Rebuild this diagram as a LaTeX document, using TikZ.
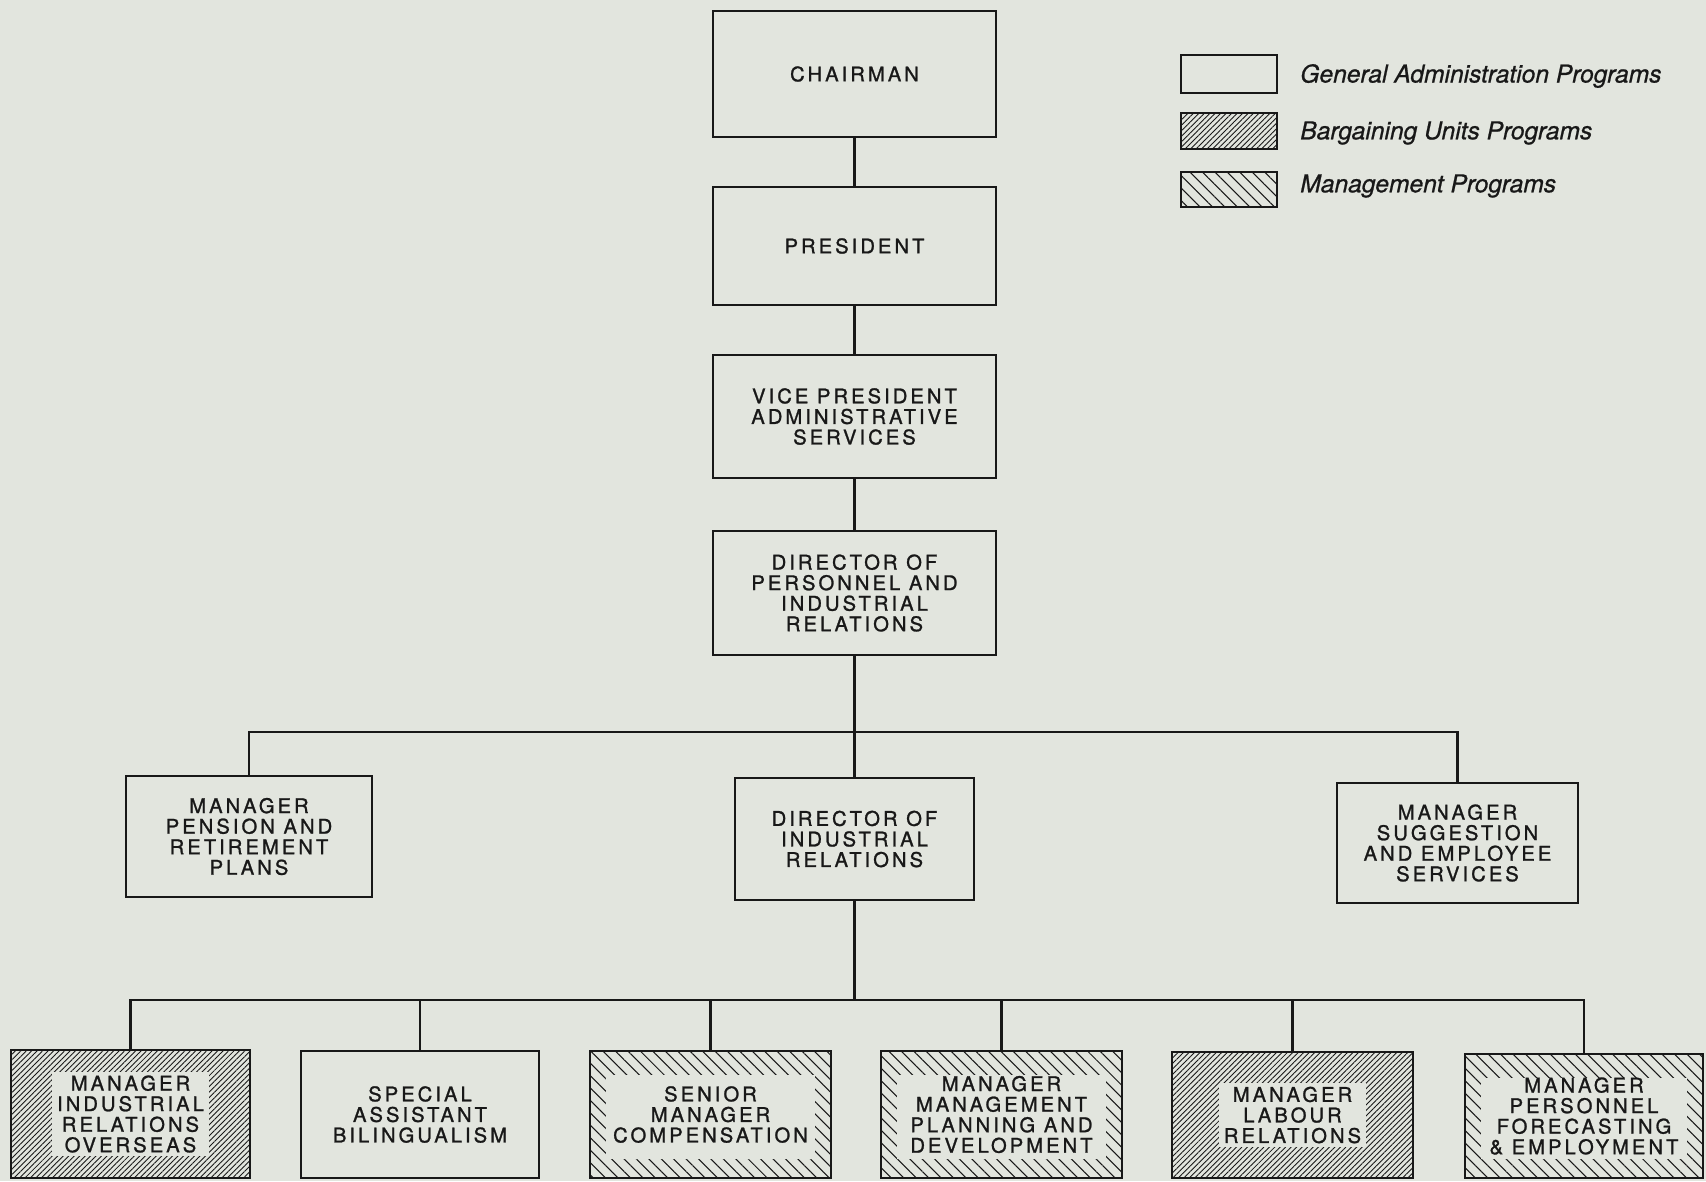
\documentclass[tikz,border=0pt]{standalone}
\usepackage{fontspec}
\usetikzlibrary{patterns.meta}
\newfontfamily\boxfont[LetterSpace=15,FakeBold=1.2]{TeX Gyre Heros}
\newfontfamily\legfont[FakeBold=0.8]{TeX Gyre Heros}
\definecolor{paper}{RGB}{226,229,222}
\definecolor{ink}{RGB}{24,24,24}
\tikzset{
  wh/.style 2 args={minimum width={#1*0.02cm}, minimum height={#2*0.02cm}},
  orgbox/.style={draw=ink, line width=1.3pt, inner sep=0pt, align=center, text=ink,
    font={\boxfont\fontsize{11.5pt}{11.7pt}\selectfont}},
  boxtext/.style={inner sep=0pt, align=center, text=ink,
    font={\boxfont\fontsize{11.5pt}{11.7pt}\selectfont}},
  bargaining/.style={pattern={Lines[angle=45,distance=2.2pt,line width=0.5pt]}, pattern color=ink},
  management/.style={pattern={Lines[angle=-45,distance=5pt,line width=0.6pt]}, pattern color=ink},
  cleartext/.style={boxtext, fill=paper, inner xsep=0.1cm, inner ysep=0.07cm},
  conn/.style={draw=ink, line width=1.3pt},
  bar/.style={draw=ink, line width=1.6pt},
  legtext/.style={anchor=west, inner sep=0pt, text=ink,
    font={\legfont\itshape\fontsize{14pt}{16pt}\selectfont}}
}
\begin{document}
\begin{tikzpicture}[x=0.02cm, y=-0.02cm]
  % page
  \fill[paper] (0,0) rectangle (1706,1181);
  \useasboundingbox (0,0) rectangle (1706,1181);

  % line of command
  \node[orgbox, wh={283}{126}] (chair) at (854.5,74)    {CHAIRMAN};
  \node[orgbox, wh={283}{118}] (pres)  at (854.5,246)   {PRESIDENT};
  \node[orgbox, wh={283}{123}] (vp)    at (854.5,416.5) {VICE PRESIDENT\\ADMINISTRATIVE\\SERVICES};
  \node[orgbox, wh={283}{124}] (dpir)  at (854.5,593)   {DIRECTOR OF\\PERSONNEL AND\\INDUSTRIAL\\RELATIONS};

  % second level
  \node[orgbox, wh={246}{121}] (pens) at (249,836.5)  {MANAGER\\PENSION AND\\RETIREMENT\\PLANS};
  \node[orgbox, wh={239}{122}] (dir)  at (854.5,839)  {DIRECTOR OF\\INDUSTRIAL\\RELATIONS};
  \node[orgbox, wh={241}{120}] (sugg) at (1457.5,843) {MANAGER\\SUGGESTION\\AND EMPLOYEE\\SERVICES};

  % third level: outer boxes
  \node[orgbox, bargaining, wh={239}{128}] (b1) at (130.5,1114)   {};
  \node[orgbox,             wh={238}{127}] (b2) at (420,1114.5)   {SPECIAL\\ASSISTANT\\BILINGUALISM};
  \node[orgbox, management, wh={241}{127}] (b3) at (710.5,1114.5) {};
  \node[orgbox, management, wh={241}{127}] (b4) at (1001.5,1114.5){};
  \node[orgbox, bargaining, wh={241}{126}] (b5) at (1292.5,1115)  {};
  \node[orgbox, management, wh={238}{124}] (b6) at (1584,1116)    {};

  % clear panels inside the management boxes
  \foreach \b in {b3,b4,b6}
    \fill[paper] ([xshift=0.34cm,yshift=-0.5cm]\b.north west)
                 rectangle ([xshift=-0.34cm,yshift=0.4cm]\b.south east);

  % labels of the hatched boxes
  \node[cleartext] (b1t) at (b1) {MANAGER\\INDUSTRIAL\\RELATIONS\\OVERSEAS};
  \node[boxtext]   (b3t) at (b3) {SENIOR\\MANAGER\\COMPENSATION};
  \node[boxtext]   (b4t) at (b4) {MANAGER\\MANAGEMENT\\PLANNING AND\\DEVELOPMENT};
  \node[cleartext] (b5t) at (b5) {MANAGER\\LABOUR\\RELATIONS};
  \node[boxtext]   (b6t) at (b6) {MANAGER\\PERSONNEL\\FORECASTING\\\& EMPLOYMENT};

  % connectors
  \draw[conn] (chair.south) -- (pres.north);
  \draw[conn] (pres.south) -- (vp.north);
  \draw[conn] (vp.south) -- (dpir.north);
  \draw[conn] (dpir.south) -- (dir.north);
  \coordinate (bar1) at (854.5,732);
  \draw[bar] (pens.north) -- (pens.north |- bar1) -- (sugg.north |- bar1) -- (sugg.north);
  \coordinate (bar2) at (854.5,1000);
  \draw[conn] (dir.south) -- (bar2);
  \draw[bar] (b1.north) -- (b1.north |- bar2) -- (b6.north |- bar2) -- (b6.north);
  \foreach \b in {b2,b3,b4,b5}
    \draw[conn] (\b.north) -- (\b.north |- bar2);

  % key
  \node[orgbox,             wh={96}{38}] (k1) at (1229,74)    {};
  \node[orgbox, bargaining, wh={96}{36}] (k2) at (1229,131)   {};
  \node[orgbox, management, wh={96}{35}] (k3) at (1229,189.5) {};
  \node[legtext] (k1t) at (1300,76)  {General Administration Programs};
  \node[legtext] (k2t) at (1300,133) {Bargaining Units Programs};
  \node[legtext] (k3t) at (1300,186) {Management Programs};
\end{tikzpicture}
\end{document}
